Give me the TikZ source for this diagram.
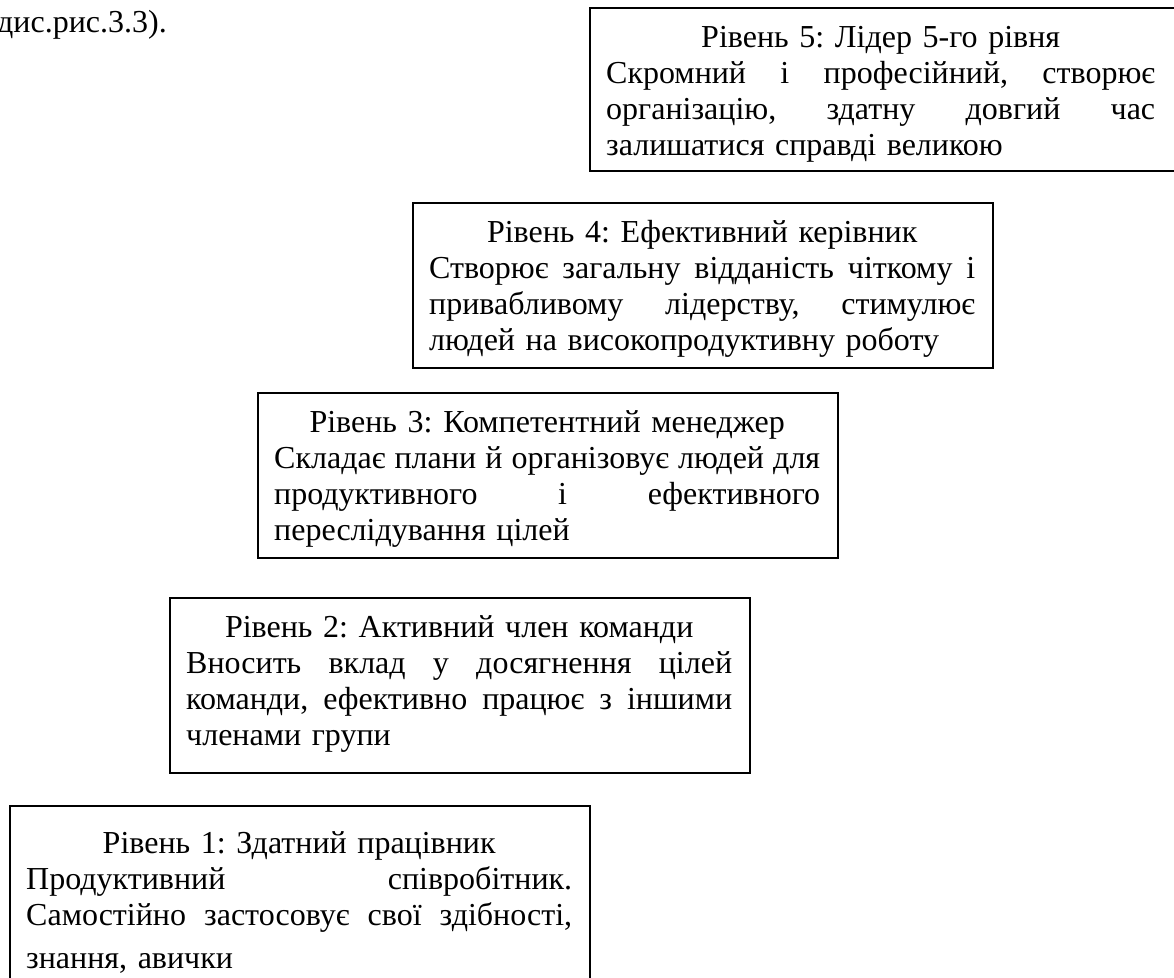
\documentclass[tikz,border=0pt]{standalone}
\usepackage{fontspec}
\setmainfont{Liberation Serif}
\newcommand{\ctline}[1]{\makebox[\hsize][c]{#1}}
\newcommand{\lline}[1]{\makebox[\hsize][l]{#1}}
\newcommand{\jline}[1]{\leavevmode\hbox to \hsize{#1}}
\newcommand{\gap}{\hfill}
\begin{document}
\begin{tikzpicture}[x=1pt,y=-1pt,
  lvlbox/.style={draw, line width=1.8pt, anchor=north west, inner sep=0pt},
  lvltext/.style={anchor=north west, inner sep=0pt, align=left,
    font=\fontsize{32}{36}\selectfont\frenchspacing},
  plain/.style={anchor=base west, inner sep=0pt, font=\fontsize{32}{36}\selectfont\frenchspacing}]
\clip (0,0) rectangle (1174,977);
\fill[white] (0,0) rectangle (1174,977);

\node[plain] (ref) at (-3,32) {дис.рис.3.3).};

% Level 5
\node[lvlbox, minimum width=610pt, minimum height=163pt] (b5) at (589,7) {};
\node[lvltext, text width=549pt] (t5) at (606,21.8) {\noindent\strut\ctline{Рівень 5: Лідер 5-го рівня}\\
\jline{Скромний\gap і\gap професійний,\gap створює}\\
\jline{організацію,\gap здатну\gap довгий\gap час}\\
\lline{залишатися справді великою}};

% Level 4
\node[lvlbox, minimum width=580pt, minimum height=165pt] (b4) at (412,202) {};
\node[lvltext, text width=546pt] (t4) at (429,216.8) {\noindent\strut\ctline{Рівень 4: Ефективний керівник}\\
\jline{Створює\gap загальну\gap відданість\gap чіткому\gap і}\\
\jline{привабливому\gap лідерству,\gap стимулює}\\
\lline{людей на високопродуктивну роботу}};

% Level 3
\node[lvlbox, minimum width=580pt, minimum height=165pt] (b3) at (257,392) {};
\node[lvltext, text width=546pt] (t3) at (274,406.8) {\noindent\strut\ctline{Рівень 3: Компетентний менеджер}\\
\jline{Складає\gap плани\gap й\gap організовує\gap людей\gap для}\\
\jline{продуктивного\gap і\gap ефективного}\\
\lline{переслідування цілей}};

% Level 2
\node[lvlbox, minimum width=580pt, minimum height=175pt] (b2) at (169,597) {};
\node[lvltext, text width=546pt] (t2) at (186,611.8) {\noindent\strut\ctline{Рівень 2: Активний член команди}\\
\jline{Вносить\gap вклад\gap у\gap досягнення\gap цілей}\\
\jline{команди,\gap ефективно\gap працює\gap з\gap іншими}\\
\lline{членами групи}};

% Level 1
\node[lvlbox, minimum width=580pt, minimum height=220pt] (b1) at (9,805) {};
\node[lvltext, text width=546pt] (t1) at (26,827.8) {\noindent\strut\ctline{Рівень 1: Здатний працівник}\\
\jline{Продуктивний\gap співробітник.}\\
\jline{Самостійно\gap застосовує\gap свої\gap здібності,}\\[7pt]
\lline{знання, авички}};
\end{tikzpicture}
\end{document}
